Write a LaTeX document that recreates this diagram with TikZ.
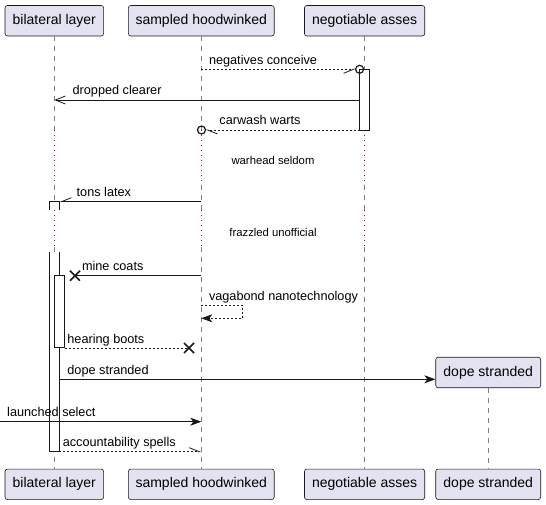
\documentclass[tikz,border=0pt]{standalone}
\usepackage{fontspec}
\setmainfont{Liberation Sans}
\usetikzlibrary{arrows.meta}
\definecolor{partfill}{HTML}{E2E2F0}
\definecolor{partline}{HTML}{181818}
\definecolor{delaydot}{HTML}{A80036}
\begin{document}
\begin{tikzpicture}[x=1pt,y=-1pt,
  part/.style={draw=partline, fill=partfill, rounded corners=2.5pt, line width=0.6pt, minimum height=30.5pt, inner sep=0pt, font=\fontsize{14}{17}\selectfont},
  life/.style={draw=black!50, line width=0.6pt, dash pattern=on 5pt off 5pt},
  delay/.style={draw=delaydot, line width=1pt, dash pattern=on 1pt off 4pt},
  actbox/.style={draw=partline, fill=white, line width=0.8pt},
  msg/.style={draw=partline, line width=0.8pt},
  reply/.style={msg, dash pattern=on 2pt off 2pt},
  lbl/.style={anchor=base west, inner sep=0pt, font=\fontsize{12.7}{15}\selectfont},
  note/.style={inner sep=0pt, font=\fontsize{11.3}{13}\selectfont},
  fullhead/.style={-{Stealth[length=11pt,width=8pt,inset=3pt]}},
  openhead/.style={-{Straight Barb[length=10pt,width=8pt]}},
  halfright/.style={-{Straight Barb[length=10pt,width=8pt,right]}},
  halfleft/.style={-{Straight Barb[length=10pt,width=8pt,left]}},
  endx/.style={draw=partline, line width=1.5pt}
]
\useasboundingbox (0,0) rectangle (546,505);

\node[part, minimum width=98.6pt] (bilT) at (54.3,20.75) {bilateral layer};
\node[part, minimum width=145.8pt] (samT) at (201.3,20.75) {sampled hoodwinked};
\node[part, minimum width=120.3pt] (negT) at (364.6,20.75) {negotiable asses};
\node[part, minimum width=98.6pt] (bilB) at (54.3,484.3) {bilateral layer};
\node[part, minimum width=145.8pt] (samB) at (201.3,484.3) {sampled hoodwinked};
\node[part, minimum width=120.3pt] (negB) at (364.6,484.3) {negotiable asses};
\node[part, minimum width=105pt] (dopB) at (488.2,484.3) {dope stranded};

\foreach \p in {bilT,samT,negT} {
  \draw[life] (\p.south) -- (\p |- 0,130);
  \draw[delay] (\p |- 0,130) -- (\p |- 0,185);
  \draw[life] (\p |- 0,185) -- (\p |- 0,210);
  \draw[delay] (\p |- 0,210) -- (\p |- 0,247);
  \draw[life] (\p |- 0,247) -- (\p |- 0,469.3);
}
\node[part, minimum width=105pt] (dopC) at (488.2,372.5) {dope stranded};
\draw[life] (dopC.south) -- (dopB.north);

\draw[actbox] (359.6,69.3) rectangle (369.6,130);
\draw[actbox] (49.3,210) -- (49.3,201.7) -- (59.3,201.7) -- (59.3,210);
\draw[actbox] (49.3,251.7) -- (49.3,451.7) -- (59.3,451.7) -- (59.3,251.7);
\draw[actbox] (54.8,275.7) rectangle (64.8,347.3);

\draw[reply, halfright] (samT |- 0,69.3) -- (355.6,69.3);
\draw[msg, line width=1.2pt] (359.6,69.3) circle (4pt);
\node[lbl] (m1) at (208.8,64.3) {negatives conceive};

\draw[msg, openhead] (359.6,100) -- (bilT |- 0,100);
\node[lbl] (m2) at (72.4,95) {dropped clearer};

\draw[reply, halfleft] (359.6,130) -- (205.5,130);
\draw[msg, line width=1.2pt] (201.5,130) circle (4pt);
\node[lbl] (m3) at (219.2,125) {carwash warts};

\node[note] (d1) at (273,160) {warhead seldom};

\draw[msg, halfright] (samT |- 0,201.7) -- (59.3,201.7);
\node[lbl] (m4) at (76.5,196.7) {tons latex};

\node[note] (d2) at (273,232.3) {frazzled unofficial};

\draw[msg] (samT |- 0,275.7) -- (75,275.7);
\draw[endx] (70,270.7) -- (80,280.7) (70,280.7) -- (80,270.7);
\node[lbl] (m5) at (81.8,270.7) {mine coats};

\draw[reply, fullhead] (samT |- 0,305) -- (242.7,305) -- (242.7,318.3) -- (samT |- 0,318.3);
\node[lbl] (m6) at (208.8,300) {vagabond nanotechnology};

\draw[reply] (64.8,348) -- (189,348);
\draw[endx] (184,343) -- (194,353) (184,353) -- (194,343);
\node[lbl] (m7) at (67.2,343) {hearing boots};

\draw[msg, fullhead] (59.3,379.3) -- (dopC.west |- 0,379.3);
\node[lbl] (m8) at (67.2,374.3) {dope stranded};

\coordinate (lsin) at (0,421.7);
\draw[msg, fullhead] (lsin) -- (samT |- lsin);
\node[lbl] (m9) at (7,416.7) {launched select};

\draw[reply, halfleft] (59.3,451.7) -- (samT |- 0,451.7);
\node[lbl] (m10) at (62.6,446.7) {accountability spells};
\end{tikzpicture}
\end{document}
